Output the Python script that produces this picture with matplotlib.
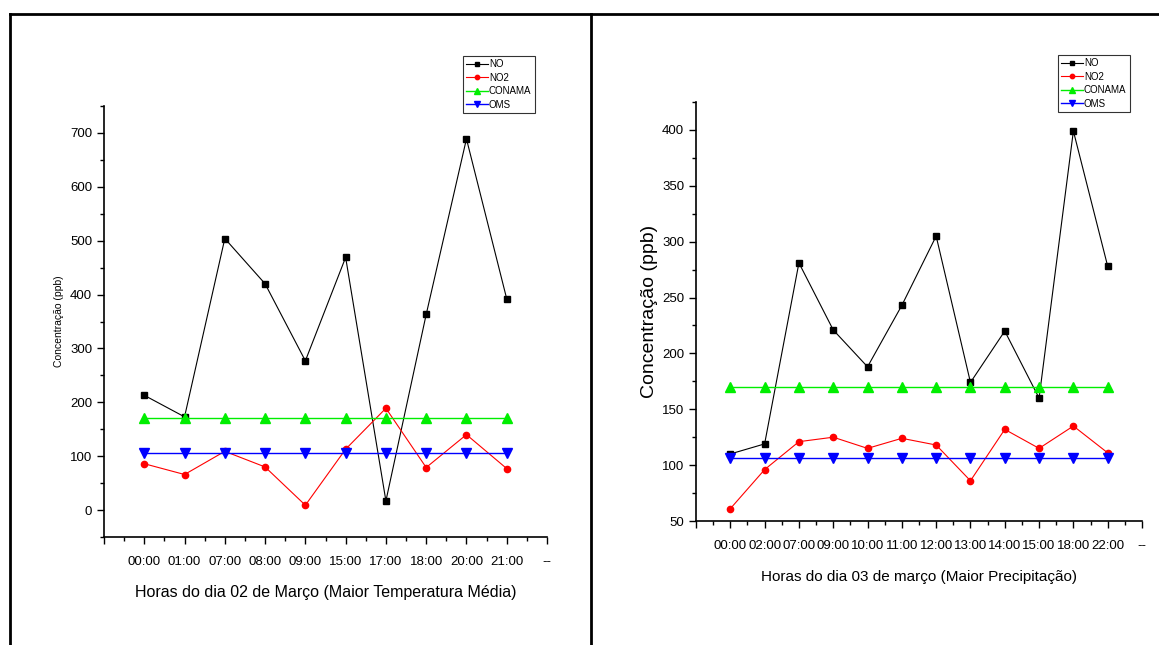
import numpy as np
import matplotlib.pyplot as plt
from matplotlib.lines import Line2D
from matplotlib.ticker import MultipleLocator

plt.rcParams['font.family'] = ['Liberation Sans', 'DejaVu Sans']

# Day 02 (highest mean temperature)
hours_02 = ["00:00", "01:00", "07:00", "08:00", "09:00", "15:00", "17:00", "18:00", "20:00", "21:00"]
no_02 = [213, 173, 504, 420, 277, 469, 17, 363, 689, 392]
no2_02 = [86, 66, 109, 80, 9, 113, 189, 79, 140, 77]

# Day 03 (highest precipitation)
hours_03 = ["00:00", "02:00", "07:00", "09:00", "10:00", "11:00", "12:00", "13:00", "14:00", "15:00", "18:00", "22:00"]
no_03 = [110, 119, 281, 221, 188, 243, 305, 174, 220, 160, 399, 278]
no2_03 = [61, 96, 121, 125, 115, 124, 118, 86, 132, 115, 135, 111]

# Reference limits
conama = 170
oms = 106

W, H = 1159, 645
fig = plt.figure(figsize=(W / 100, H / 100), dpi=100)


def px_axes(x0, y0, x1, y1):
    # axes from pixel box (top-left origin)
    return fig.add_axes([x0 / W, 1 - y1 / H, (x1 - x0) / W, (y1 - y0) / H])


def draw_panel(ax, hours, no, no2, ylim, ymajor, yminor, xpad):
    x = np.arange(1, len(hours) + 1)
    ax.plot(x, no, color="black", marker="s", ms=4.2, lw=0.8, label="NO")
    ax.plot(x, no2, color="red", marker="o", ms=4.5, lw=0.8, label="NO2")
    ax.plot(x, [conama] * len(x), color="#00ee00", marker="^", ms=7, lw=1.0, label="CONAMA")
    ax.plot(x, [oms] * len(x), color="blue", marker="v", ms=7, lw=1.0, label="OMS")

    ax.set_xlim(0, len(hours) + 1)
    ax.set_ylim(*ylim)
    ax.set_xticks(np.arange(0, len(hours) + 2))
    ax.set_xticklabels([""] + hours + ["--"])
    ax.xaxis.set_minor_locator(MultipleLocator(0.5))
    ax.yaxis.set_major_locator(MultipleLocator(ymajor))
    ax.yaxis.set_minor_locator(MultipleLocator(yminor))
    ax.tick_params(which="major", direction="out", length=5, width=1, labelsize=9.5, colors="black")
    ax.tick_params(axis="x", which="major", pad=xpad)
    ax.tick_params(which="minor", direction="out", length=3, width=1)
    for s in ["top", "right"]:
        ax.spines[s].set_visible(False)
    for s in ["left", "bottom"]:
        ax.spines[s].set_linewidth(1.2)


def add_legend(ax, x0, y0):
    leg = ax.legend(loc="upper left", bbox_to_anchor=(x0 / W, 1 - y0 / H), bbox_transform=fig.transFigure,
                    fontsize=7, frameon=True, fancybox=False, edgecolor="black", handlelength=2.2,
                    handletextpad=0.1, labelspacing=0.35, borderpad=0.35, markerscale=0.7,
                    borderaxespad=0)
    leg.get_frame().set_linewidth(0.8)


# Left panel
ax1 = px_axes(104, 106, 547, 537)
draw_panel(ax1, hours_02, no_02, no2_02, (-50, 750), 100, 50, xpad=9)
ax1.set_xlabel("Horas do dia 02 de Março (Maior Temperatura Média)", fontsize=11.5, labelpad=12)
ax1.set_ylabel("Concentração (ppb)", fontsize=7.5, labelpad=4)
add_legend(ax1, 463, 56)

# Right panel
ax2 = px_axes(696, 102, 1142, 521)
draw_panel(ax2, hours_03, no_03, no2_03, (50, 425), 50, 25, xpad=9)
ax2.set_xlabel("Horas do dia 03 de março (Maior Precipitação)", fontsize=11, labelpad=13)
ax2.set_ylabel("Concentração (ppb)", fontsize=14, labelpad=3)
add_legend(ax2, 1058, 55)

# Frame lines around the two panels
fig.add_artist(Line2D([10 / W, 10 / W], [0, 1 - 14 / H], color="black", lw=2, transform=fig.transFigure))
fig.add_artist(Line2D([10 / W, 1], [1 - 14 / H, 1 - 14 / H], color="black", lw=2, transform=fig.transFigure))
fig.add_artist(Line2D([591 / W, 591 / W], [0, 1 - 14 / H], color="black", lw=2, transform=fig.transFigure))

plt.savefig("out.png", dpi=100)
